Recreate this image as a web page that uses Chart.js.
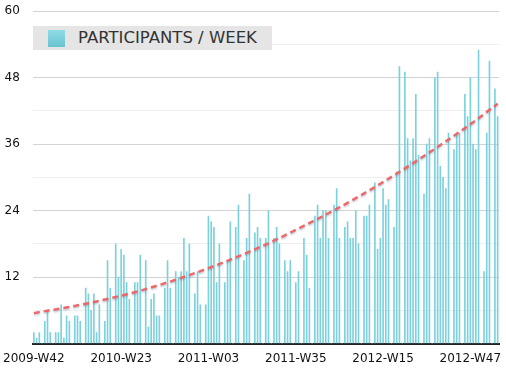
<!DOCTYPE html>
<html>
<head>
<meta charset="utf-8">
<script src="https://cdn.jsdelivr.net/npm/chart.js@4/dist/chart.umd.min.js"></script>
<style>
  html, body { margin: 0; padding: 0; background: #fff; }
  #wrap { position: relative; width: 506px; height: 369px; }
  #legend { position: absolute; left: 33px; top: 26px; width: 239px; height: 24px; background: #e5e5e5;
            font-family: "DejaVu Sans", sans-serif; font-size: 16.5px; color: #333; }
  #legend .swatch { position: absolute; left: 15px; top: 4px; width: 17px; height: 17px;
                    background: linear-gradient(#8fdce6, #69c2cf); }
  #legend .label { position: absolute; left: 45px; top: 2px; line-height: 20px; white-space: nowrap; }
</style>
</head>
<body>
<div id="wrap">
  <canvas id="weeklyChart"></canvas>
  <div id="legend"><span class="swatch"></span><span class="label">PARTICIPANTS / WEEK</span></div>
</div>
<script>
// x tick labels, one every 32 weeks
const tickLabels = ['2009-W42', '2010-W23', '2011-W03', '2011-W35', '2012-W15', '2012-W47'];
const weeksPerTick = 32;

// participants per week (171 weeks)
const participants = [
    2, 1, 2, 0, 4, 6, 2, 0, 2, 2,
    7, 1, 5, 4, 0, 5, 5, 4, 0, 10,
    9, 6, 9, 2, 7, 0, 4, 15, 10, 0,
    18, 12, 17, 16, 11, 8, 0, 11, 11, 16,
    0, 15, 3, 8, 9, 5, 5, 0, 10, 15,
    10, 0, 13, 12, 13, 19, 13, 18, 0, 9,
    13, 7, 0, 7, 23, 22, 21, 11, 18, 0,
    11, 15, 22, 0, 21, 25, 0, 15, 19, 27,
    0, 20, 21, 19, 0, 19, 24, 0, 19, 21,
    18, 0, 15, 13, 15, 0, 11, 13, 0, 19,
    16, 10, 0, 23, 25, 19, 24, 24, 19, 0,
    25, 28, 19, 0, 21, 22, 19, 19, 24, 18,
    0, 23, 23, 25, 0, 29, 17, 19, 28, 25,
    26, 0, 21, 31, 50, 0, 49, 37, 33, 37,
    45, 34, 0, 27, 36, 37, 0, 48, 49, 32,
    30, 28, 38, 0, 35, 38, 38, 0, 45, 41,
    48, 36, 35, 53, 0, 13, 38, 51, 0, 46,
    41
];

// dashed trend line, read at a few weeks
const trendWeeks = [0, 20, 40, 60, 80, 100, 120, 140, 160, 170];
const trendValues = [5.5, 7.3, 9.7, 12.9, 16.8, 21.5, 26.8, 32.9, 39.6, 43.3];

const labels = participants.map((v, i) => i % weeksPerTick === 0 ? tickLabels[i / weeksPerTick] || '' : '');
const trend = participants.map(() => null);
trendWeeks.forEach((w, i) => { trend[w] = trendValues[i]; });

const trendShadow = {
    id: 'trendShadow',
    beforeDatasetDraw(chart, args) {
        if (args.meta.type !== 'line') return;
        const c = chart.ctx;
        c.save();
        c.shadowColor = 'rgba(70,90,130,0.35)';
        c.shadowBlur = 2;
        c.shadowOffsetY = 1.5;
    },
    afterDatasetDraw(chart, args) {
        if (args.meta.type === 'line') chart.ctx.restore();
    }
};

const font = { family: '"DejaVu Sans", sans-serif', size: 12 };

new Chart(document.getElementById('weeklyChart'), {
    type: 'bar',
    data: {
        labels,
        datasets: [
            {
                type: 'line',
                label: 'trend',
                data: trend,
                borderColor: 'rgba(238,98,98,0.95)',
                borderWidth: 2.5,
                borderDash: [6, 4],
                pointRadius: 0,
                spanGaps: true,
                cubicInterpolationMode: 'monotone',
                fill: false,
                order: 1
            },
            {
                label: 'PARTICIPANTS / WEEK',
                data: participants,
                backgroundColor: '#7dd1dd',
                barThickness: 1,
                order: 2
            }
        ]
    },
    options: {
        responsive: true,
        maintainAspectRatio: false,
        animation: false,
        layout: { padding: { left: 4.5, right: 7, top: 3, bottom: 3 } },
        scales: {
            x: {
                offset: true,
                grid: { display: false },
                border: { color: '#222', width: 2 },
                ticks: {
                    autoSkip: false, maxRotation: 0, padding: 0,
                    color: '#111', font,
                    callback: (v, i) => labels[i]
                }
            },
            y: {
                min: 0, max: 60,
                border: { display: false },
                grid: {
                    drawTicks: false,
                    color: c => (c.tick && c.tick.value % 12 === 0) ? '#d4d4d4' : '#efefef'
                },
                ticks: {
                    stepSize: 6, crossAlign: 'far', padding: 4,
                    color: '#111', font,
                    callback: v => (v % 12 === 0 && v !== 0) ? v : ''
                },
                afterFit: s => { s.width = 28; }
            }
        },
        plugins: {
            legend: { display: false },
            tooltip: { enabled: false }
        }
    },
    plugins: [trendShadow]
});
</script>
</body>
</html>
